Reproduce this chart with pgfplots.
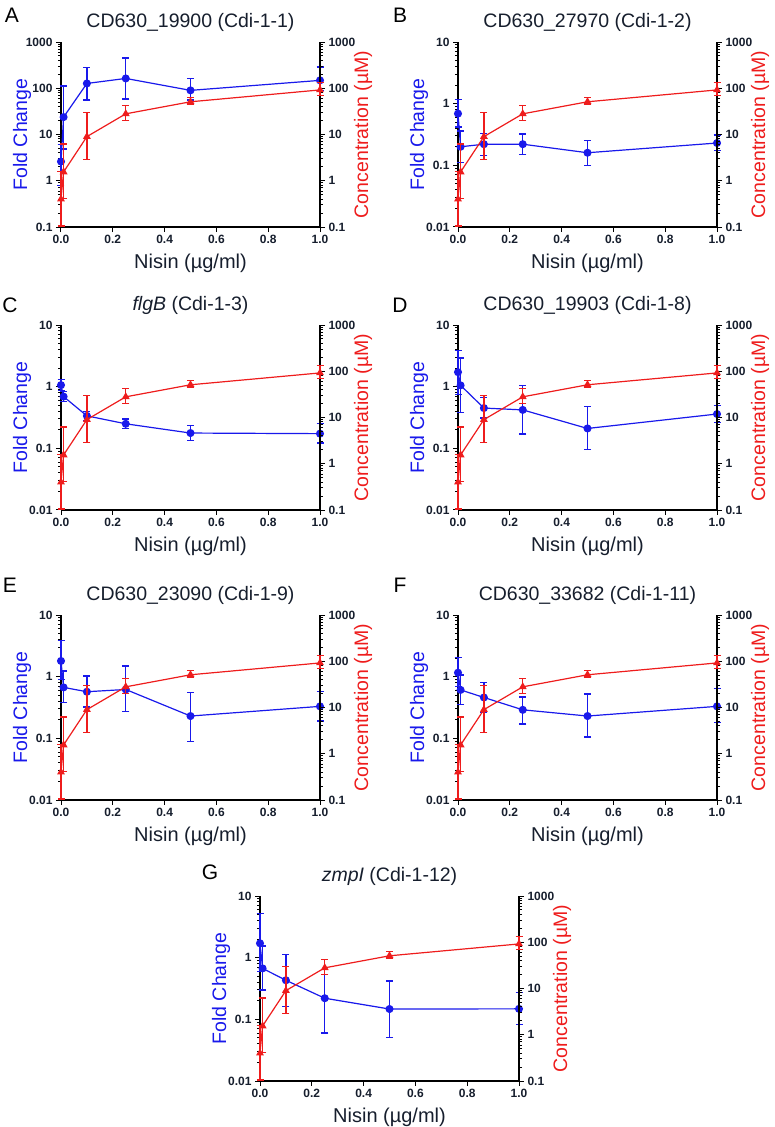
\documentclass[border=0pt]{standalone}
\usepackage{pgfplots}
\pgfplotsset{compat=1.18}
\usepackage{pgfplotstable}
\usepackage{fontspec}
\setmainfont{Liberation Sans}

\definecolor{fcblue}{RGB}{25,25,235}
\definecolor{conred}{RGB}{238,28,28}
\definecolor{txt}{RGB}{22,30,45}

% concentration (same in every panel)
\pgfplotstableread{
x y lo hi
0 0.4 0.105 1.6
0.01 1.55 0.41 6.2
0.1 9 2.9 30
0.25 28 20 42
0.5 51 46 64
1.0 92 70 132
}\redtab

\pgfplotstableread{
x y lo hi
0 2.6 0.8 6
0.01 23.8 4.9 112
0.1 127 56 280
0.25 163 59 450
0.5 90 56 164
1.0 148 90 290
}\bluA
\pgfplotstableread{
x y lo hi
0 0.69 0.42 1.16
0.01 0.2 0.11 0.36
0.1 0.22 0.145 0.33
0.25 0.22 0.15 0.32
0.5 0.16 0.10 0.25
1.0 0.23 0.175 0.31
}\bluB
\pgfplotstableread{
x y lo hi
0 1.06 0.86 1.3
0.01 0.69 0.57 0.83
0.1 0.336 0.28 0.40
0.25 0.25 0.21 0.30
0.5 0.177 0.134 0.235
1.0 0.173 0.122 0.25
}\bluC
\pgfplotstableread{
x y lo hi
0 1.72 0.75 3.85
0.01 1.05 0.38 2.93
0.1 0.45 0.31 0.66
0.25 0.42 0.17 1.05
0.5 0.21 0.095 0.48
1.0 0.36 0.26 0.50
}\bluD
\pgfplotstableread{
x y lo hi
0 1.8 0.9 3.9
0.01 0.67 0.38 1.24
0.1 0.57 0.32 1.03
0.25 0.62 0.27 1.5
0.5 0.23 0.088 0.56
1.0 0.33 0.19 0.57
}\bluE
\pgfplotstableread{
x y lo hi
0 1.16 0.69 2.03
0.01 0.61 0.35 1.06
0.1 0.46 0.26 0.8
0.25 0.29 0.17 0.47
0.5 0.23 0.105 0.52
1.0 0.33 0.18 0.65
}\bluF
\pgfplotstableread{
x y lo hi
0 1.71 0.6 5.2
0.01 0.67 0.3 1.55
0.1 0.43 0.16 1.13
0.25 0.22 0.06 0.65
0.5 0.147 0.051 0.42
1.0 0.148 0.082 0.27
}\bluG

\pgfplotsset{
  /pgfplots/fcaxis/.style={
    /pgfplots/width=259pt, /pgfplots/height=185pt, /pgfplots/scale only axis,
    /pgfplots/xmin=0, /pgfplots/xmax=1, /pgfplots/clip=false,
    /pgfplots/tick align=outside,
    /pgfplots/xtick={0,0.2,0.4,0.6,0.8,1.0},
    /pgfplots/xticklabels={0.0,0.2,0.4,0.6,0.8,1.0},
    /pgfplots/axis line style={line width=1.5pt, black, -},
    /pgfplots/major tick length=5pt, /pgfplots/minor tick length=3pt,
    /pgfplots/tick style={line width=1pt, black},
    /pgfplots/ticklabel style={font=\fontsize{12}{14}\selectfont\bfseries, text=txt},
  },
}

% #1 left, #2 top (px), #3 ymin, #4 ymax, #5 ticks, #6 blue table, #7 title
\newcommand{\panel}[7]{%
  \begin{axis}[ymode=log, fcaxis, at={(#1pt,-#2pt)}, anchor=north west,
    ymin=#3, ymax=#4, ytick={#5}, yticklabels={#5},
    axis y line*=left, axis x line*=bottom]
    \addplot[color=fcblue, line width=1.2pt, mark=*, mark size=3.4pt,
      error bars/.cd, y dir=both, y explicit,
      error bar style={line width=1.4pt, draw=fcblue},
      error mark options={rotate=90, mark size=3.5pt, line width=1.4pt, draw=fcblue}]
      table[x=x, y=y, y error plus expr=\thisrow{hi}-\thisrow{y},
            y error minus expr=\thisrow{y}-\thisrow{lo}] {#6};
  \end{axis}
  \begin{axis}[ymode=log, fcaxis, at={(#1pt,-#2pt)}, anchor=north west,
    ymin=0.1, ymax=1000, ytick={0.1,1,10,100,1000}, yticklabels={0.1,1,10,100,1000},
    axis y line*=right, axis x line=none]
    \addplot[color=conred, line width=1.2pt, mark=triangle*, mark size=3.4pt,
      error bars/.cd, y dir=both, y explicit,
      error bar style={line width=1.4pt, draw=conred},
      error mark options={rotate=90, mark size=3.5pt, line width=1.4pt, draw=conred}]
      table[x=x, y=y, y error plus expr=\thisrow{hi}-\thisrow{y},
            y error minus expr=\thisrow{y}-\thisrow{lo}] {\redtab};
  \end{axis}
  \node[text=txt, font=\fontsize{19.5}{22}\selectfont] at ({#1pt+129.5pt},{20pt-#2pt}) {#7};
  \node[text=fcblue, rotate=90, font=\fontsize{19.5}{22}\selectfont] at ({#1pt-39pt},{-#2pt-92.5pt}) {Fold Change};
  \node[text=conred, rotate=90, font=\fontsize{19.5}{22}\selectfont] at ({#1pt+302pt},{-#2pt-92.5pt}) {Concentration (µM)};
  \node[text=txt, font=\fontsize{20}{22}\selectfont] at ({#1pt+129.5pt},{-#2pt-221pt}) {Nisin (µg/ml)};
}

\begin{document}
\begin{tikzpicture}
\path[use as bounding box] (0,0) rectangle (775pt,-1127pt);

\panel{61}{42}{0.1}{1000}{0.1,1,10,100,1000}{\bluA}{CD630\_19900 (Cdi-1-1)}
\panel{458}{42}{0.01}{10}{0.01,0.1,1,10}{\bluB}{CD630\_27970 (Cdi-1-2)}
\panel{61}{325}{0.01}{10}{0.01,0.1,1,10}{\bluC}{\textit{flgB} (Cdi-1-3)}
\panel{458}{325}{0.01}{10}{0.01,0.1,1,10}{\bluD}{CD630\_19903 (Cdi-1-8)}
\panel{61}{615}{0.01}{10}{0.01,0.1,1,10}{\bluE}{CD630\_23090 (Cdi-1-9)}
\panel{458}{615}{0.01}{10}{0.01,0.1,1,10}{\bluF}{CD630\_33682 (Cdi-1-11)}
\panel{260}{896}{0.01}{10}{0.01,0.1,1,10}{\bluG}{\textit{zmpI} (Cdi-1-12)}

\begin{scope}[every node/.style={text=black, font=\fontsize{21}{24}\selectfont}]
\node at (12pt,-15pt) {A};
\node at (400pt,-15pt) {B};
\node at (10pt,-305pt) {C};
\node at (400pt,-305pt) {D};
\node at (10pt,-585pt) {E};
\node at (400pt,-585pt) {F};
\node at (210pt,-872pt) {G};
\end{scope}
\end{tikzpicture}
\end{document}
